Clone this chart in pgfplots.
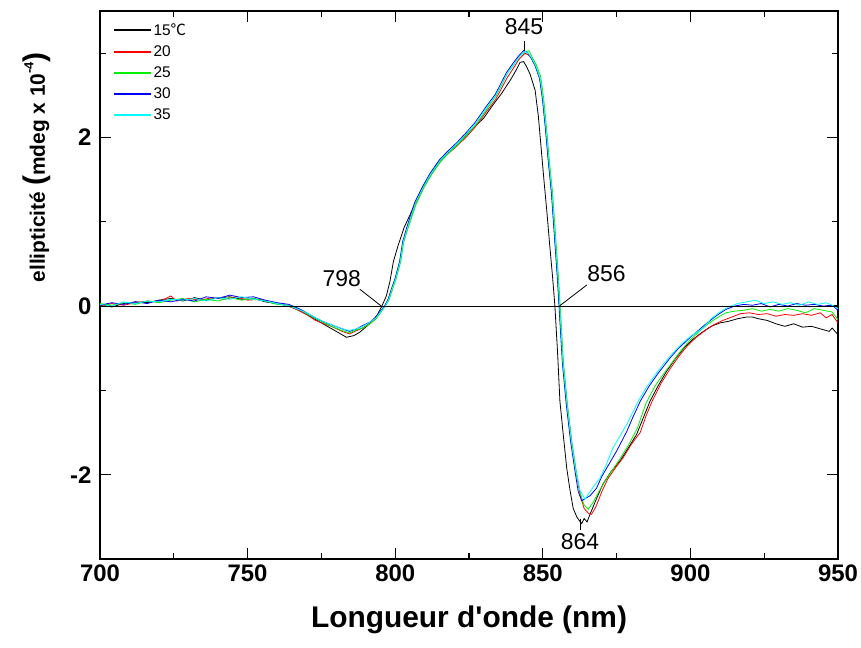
\documentclass[border=0pt]{standalone}
\usepackage{pgfplots}
\pgfplotsset{compat=1.18}
\usepackage{fontspec}
\setmainfont{Liberation Sans}
\newfontfamily\nolig{Liberation Sans}[Ligatures=TeXOff]
\newfontfamily\cjk{Noto Sans CJK SC}
\usetikzlibrary{calc}
\definecolor{ogreen}{RGB}{0,240,0}
\definecolor{ocyan}{RGB}{0,255,255}
\definecolor{ored}{RGB}{255,0,0}
\begin{document}
\begin{tikzpicture}
\begin{axis}[
  scale only axis, width=738bp, height=548bp,
  xmin=700, xmax=950, ymin=-3, ymax=3.5,
  xtick={700,750,...,950}, ytick={-2,0,2},
  minor x tick num=1, minor ytick={-3,-1,1,3},
  tick align=inside, tick pos=both,
  major tick length=11bp, minor tick length=6bp,
  axis line style={line width=1.5bp}, tick style={line width=1.2bp, black},
  /pgf/number format/assume math mode=true,
  ticklabel style={font=\fontsize{24}{24}\selectfont\bfseries},
  xticklabel style={yshift=-2bp},
  yticklabel style={xshift=-5bp},
  xlabel={\fontsize{30}{30}\selectfont\nolig\bfseries Longueur d'onde (nm)},
  xlabel style={at={(axis description cs:0.5,0)}, anchor=center, yshift=-61bp},
  ylabel={\fontsize{21}{21}\selectfont\bfseries ellipticit\'e {\fontsize{30}{30}\selectfont(}mdeg x 10\raisebox{0.55em}{\fontsize{13}{13}\selectfont -4}{\fontsize{30}{30}\selectfont)}},
  ylabel style={at={(axis description cs:-0.085,0.715)}, anchor=center, rotate=0},
  legend style={at={(axis description cs:0.014,0.985)}, anchor=north west, draw=none, fill=none,
    font=\fontsize{15.5}{15.5}\selectfont, row sep=4.9bp, inner sep=2bp},
  legend cell align=left,
  legend image code/.code={\draw[#1, line width=2bp] (0bp,0bp) -- (37bp,0bp);},
  every axis plot/.append style={line width=0.8bp},
]
\addplot[black] coordinates {
(700,0.02)(704,-0.01)(708,0.03)(712,0.05)(716,0.04)(720,0.07)(724,0.09)(728,0.06)(732,0.10)(736,0.07)(740,0.10)(744,0.11)(748,0.08)(752,0.09)(756,0.05)(760,0.03)(764,0.00)(768,-0.06)
(772,-0.14)(775,-0.20)(778,-0.26)(781,-0.32)(783.5,-0.37)(786,-0.35)(788,-0.31)(790,-0.25)(792,-0.19)(794,-0.10)(795.5,0.00)(797,0.12)(798.2,0.29)(799.4,0.53)(801,0.72)(803,0.93)(805,1.08)(807,1.24)(809.5,1.42)(812,1.56)(815,1.72)(818,1.82)(821,1.92)(824,2.03)(827,2.13)(830,2.23)(833,2.38)(836,2.52)(839,2.68)(841,2.80)(842.3,2.89)(843.5,2.90)(844.5,2.84)(845.7,2.75)(847.4,2.56)(848.5,2.25)(849.5,1.85)(850.5,1.45)(851.3,1.15)(852.4,0.70)(853.3,0.35)(854.1,0.00)(855,-0.55)(855.8,-1.13)(857,-1.55)(858.1,-1.92)(859.2,-2.18)(860.3,-2.40)(861.5,-2.50)(862.5,-2.55)(863.2,-2.58)(864,-2.52)(865,-2.56)(866,-2.47)(868,-2.30)(870.4,-2.11)(873,-1.97)(876.1,-1.84)(879,-1.68)(881.8,-1.52)(884,-1.33)(886.3,-1.13)(889,-0.95)(892,-0.77)(895,-0.62)(898,-0.49)(901,-0.39)(904,-0.31)(907,-0.24)(910,-0.20)(913,-0.18)(916,-0.15)(919,-0.13)(921,-0.13)(923,-0.15)(926,-0.17)(929,-0.21)(932,-0.24)(935,-0.21)(938,-0.25)(941,-0.24)(944,-0.27)(947,-0.30)(948,-0.26)(950,-0.34)};
\addlegendentry{15{\cjk ℃}}
\addplot[ored] coordinates {
(700,0.00)(704,0.03)(708,0.01)(712,0.04)(716,0.06)(720,0.05)(724,0.12)(726,0.06)(730,0.09)(734,0.07)(738,0.10)(742,0.08)(746,0.11)(750,0.07)(754,0.08)(758,0.04)(762,0.02)(766,-0.03)
(770,-0.10)(773,-0.17)(776,-0.21)(779,-0.25)(782,-0.30)(784.5,-0.33)(787,-0.29)(789,-0.26)(791.5,-0.20)(793.5,-0.15)(795,-0.07)(796.5,0.00)(797.7,0.08)(799,0.22)(800,0.32)(801.6,0.53)(802.6,0.74)(804,0.90)(806.7,1.20)(809.4,1.40)(812,1.55)(815.2,1.71)(818,1.81)(821,1.90)(824.2,2.01)(827,2.12)(831,2.31)(834,2.45)(837.8,2.70)(840,2.82)(842,2.93)(844,3.00)(845,2.98)(846,2.95)(847.5,2.85)(849,2.70)(850,2.45)(851,2.10)(852,1.70)(853,1.35)(854,0.85)(855,0.35)(855.6,0.00)(856.8,-0.66)(858.2,-1.15)(859.7,-1.60)(861.2,-1.95)(862.7,-2.25)(864,-2.40)(865.5,-2.46)(866.5,-2.47)(868,-2.38)(870,-2.20)(872,-2.05)(875,-1.90)(877.2,-1.80)(880,-1.64)(883,-1.50)(885,-1.30)(887,-1.13)(890,-0.92)(893,-0.75)(896,-0.60)(899,-0.47)(902,-0.37)(905,-0.29)(908,-0.22)(911,-0.17)(914,-0.13)(917,-0.09)(920,-0.08)(923,-0.10)(926,-0.09)(929,-0.12)(932,-0.10)(935,-0.11)(938,-0.09)(941,-0.11)(944,-0.08)(946,-0.14)(948,-0.10)(950,-0.20)};
\addlegendentry{20}
\addplot[ogreen] coordinates {
(700,0.03)(704,0.01)(708,0.04)(712,0.02)(716,0.06)(720,0.04)(724,0.07)(728,0.09)(732,0.05)(736,0.08)(740,0.06)(744,0.10)(748,0.07)(752,0.09)(756,0.06)(760,0.02)(764,0.01)(768,-0.05)
(770,-0.09)(773,-0.15)(776,-0.20)(779,-0.25)(782,-0.29)(784.5,-0.32)(787,-0.28)(789,-0.26)(791.5,-0.21)(793.5,-0.15)(795,-0.08)(796.7,0.00)(798,0.08)(799.3,0.22)(800.3,0.32)(801.9,0.53)(802.9,0.76)(804.3,0.92)(807,1.20)(809.7,1.40)(812.3,1.56)(815.5,1.72)(818.3,1.82)(821.3,1.92)(824.5,2.04)(827.3,2.15)(831.3,2.35)(834.3,2.50)(838,2.76)(840.3,2.87)(842.3,2.97)(844.3,3.02)(845.3,3.03)(846.3,2.96)(847.8,2.86)(849.3,2.72)(850.3,2.46)(851.3,2.10)(852.3,1.70)(853.3,1.35)(854.3,0.85)(855.3,0.35)(855.9,0.00)(857,-0.66)(858.3,-1.15)(859.8,-1.60)(861.3,-1.95)(862.7,-2.22)(864,-2.36)(865.4,-2.41)(867,-2.33)(869,-2.20)(871,-2.08)(873.5,-1.95)(876,-1.82)(879,-1.65)(882,-1.45)(885,-1.15)(888,-0.95)(891,-0.80)(894,-0.66)(897,-0.52)(900,-0.40)(903,-0.30)(906,-0.21)(909,-0.14)(912,-0.08)(915,-0.06)(918,-0.05)(921,-0.03)(924,-0.06)(927,-0.04)(930,-0.06)(933,-0.03)(936,-0.05)(939,-0.08)(942,-0.03)(945,-0.05)(948,-0.07)(950,-0.16)};
\addlegendentry{25}
\addplot[blue] coordinates {
(700,0.01)(704,0.04)(708,0.02)(712,0.05)(716,0.03)(720,0.07)(724,0.05)(728,0.08)(732,0.06)(736,0.11)(740,0.09)(744,0.13)(748,0.10)(752,0.11)(756,0.07)(760,0.04)(764,0.02)(768,-0.04)
(770,-0.08)(773,-0.14)(776,-0.19)(779,-0.23)(782,-0.27)(784.5,-0.30)(787,-0.27)(789,-0.23)(791.5,-0.19)(793.5,-0.13)(795,-0.06)(796.4,0.00)(797.6,0.08)(798.9,0.22)(799.9,0.32)(801.5,0.53)(802.5,0.76)(803.9,0.93)(806.6,1.23)(809.3,1.42)(811.9,1.58)(815.1,1.74)(817.9,1.84)(820.9,1.94)(824.1,2.06)(826.9,2.17)(830.9,2.37)(833.9,2.51)(837.7,2.77)(839.9,2.88)(841.9,2.97)(843.5,3.03)(844.8,3.01)(845.9,2.95)(847.4,2.85)(848.9,2.70)(849.9,2.45)(850.9,2.10)(851.9,1.70)(852.9,1.35)(853.9,0.85)(854.9,0.35)(855.5,0.00)(856.6,-0.66)(857.9,-1.15)(859.4,-1.60)(861,-1.98)(862,-2.20)(863.2,-2.31)(864.5,-2.28)(866,-2.25)(868.2,-2.16)(870,-2.02)(872,-1.90)(875,-1.72)(878.4,-1.49)(880.5,-1.32)(883,-1.13)(886,-0.95)(889,-0.80)(893,-0.62)(896,-0.50)(900,-0.37)(903,-0.28)(906,-0.19)(909,-0.11)(912,-0.04)(915,0.00)(918,0.02)(921,0.01)(924,0.03)(927,-0.01)(930,0.02)(933,0.00)(936,0.03)(939,0.01)(942,0.02)(945,0.00)(948,0.01)(950,-0.05)};
\addlegendentry{30}
\addplot[ocyan] coordinates {
(700,0.02)(704,0.00)(708,0.05)(712,0.03)(716,0.06)(720,0.05)(724,0.08)(728,0.07)(732,0.09)(736,0.06)(740,0.10)(744,0.08)(748,0.11)(752,0.08)(756,0.06)(760,0.03)(764,0.00)(768,-0.05)
(770,-0.08)(773,-0.14)(776,-0.19)(779,-0.23)(782,-0.27)(784.5,-0.29)(787,-0.27)(789,-0.24)(791.5,-0.19)(793.5,-0.14)(795,-0.07)(796.6,0.00)(797.8,0.08)(799.1,0.22)(800.1,0.32)(801.7,0.53)(802.7,0.76)(804.1,0.92)(806.8,1.22)(809.5,1.41)(812.1,1.57)(815.3,1.73)(818.1,1.83)(821.1,1.93)(824.3,2.05)(827.1,2.16)(831.1,2.36)(834.1,2.50)(837.9,2.76)(840.1,2.86)(842.1,2.96)(844,3.02)(845.1,3.00)(846.1,2.95)(847.6,2.85)(849.1,2.70)(850.1,2.45)(851.1,2.10)(852.1,1.70)(853.1,1.35)(854.1,0.85)(855.1,0.35)(855.7,0.00)(856.8,-0.66)(858.1,-1.13)(859.6,-1.58)(861,-1.92)(862.5,-2.18)(864.3,-2.29)(865.5,-2.23)(867,-2.15)(869.4,-2.04)(871.5,-1.88)(873.8,-1.68)(876,-1.55)(878.5,-1.40)(880.6,-1.25)(882.3,-1.13)(885,-0.97)(888,-0.82)(891,-0.68)(894,-0.56)(897,-0.45)(900,-0.36)(904.3,-0.26)(907,-0.15)(910,-0.07)(913,-0.01)(916,0.03)(919,0.05)(922,0.07)(925,0.03)(928,0.05)(931,0.02)(934,0.04)(937,0.01)(940,0.05)(943,0.02)(946,0.04)(948,0.01)(950,-0.03)};
\addlegendentry{35}
\draw[black, line width=0.8bp] (axis cs:700,0) -- (axis cs:950,0);
\draw[black, line width=0.8bp] (axis cs:788,0.20) -- (axis cs:795.3,0);
\draw[black, line width=0.8bp] (axis cs:864.9,0.25) -- (axis cs:855.6,0);
\draw[black, line width=0.8bp] (axis cs:843.6,3.15) -- (axis cs:843.6,3.03);
\draw[black, line width=0.8bp] (axis cs:862.6,-2.53) -- (axis cs:862.6,-2.66);
\node[font=\fontsize{23}{23}\selectfont] at (axis cs:781.9,0.33) {798};
\node[font=\fontsize{23}{23}\selectfont] at (axis cs:871.6,0.38) {856};
\node[font=\fontsize{23}{23}\selectfont] at (axis cs:843.6,3.31) {845};
\node[font=\fontsize{23}{23}\selectfont] at (axis cs:862.6,-2.79) {864};
\end{axis}
\pgfresetboundingbox
\path ($(current axis.south west)+(-100bp,-89bp)$) rectangle ($(current axis.north east)+(23bp,11bp)$);
\end{tikzpicture}
\end{document}
